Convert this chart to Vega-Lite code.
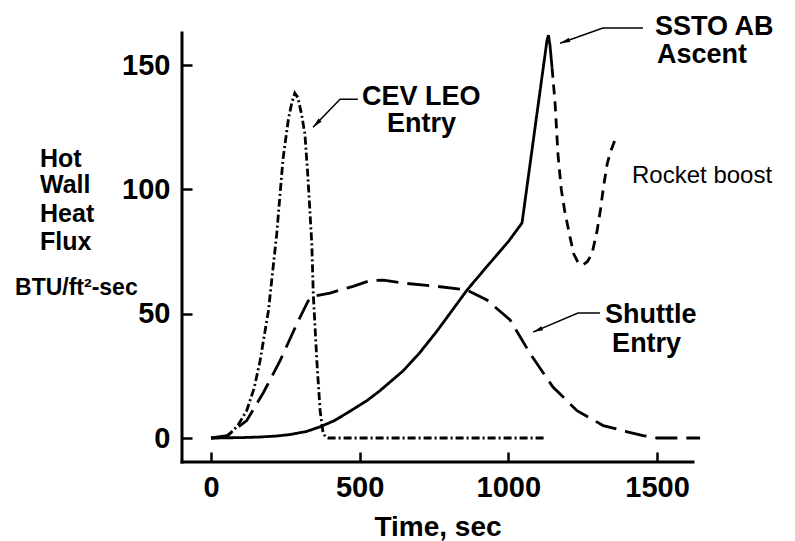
{
  "$schema": "https://vega.github.io/schema/vega-lite/v6.json",
  "width": 511,
  "height": 429,
  "autosize": {"type": "none"},
  "padding": {"left": 182, "top": 33, "right": 102, "bottom": 79},
  "background": "white",
  "config": {
    "view": {"stroke": null},
    "font": "Liberation Sans",
    "axis": {
      "labelFont": "Liberation Sans",
      "titleFont": "Liberation Sans",
      "labelColor": "black",
      "titleColor": "black",
      "domainColor": "black",
      "tickColor": "black",
      "grid": false
    }
  },
  "datasets": {
    "curves": [
      {"s": "SSTO", "t": 0, "v": 0},
      {"s": "SSTO", "t": 100, "v": 0.15},
      {"s": "SSTO", "t": 165, "v": 0.4},
      {"s": "SSTO", "t": 220, "v": 0.8},
      {"s": "SSTO", "t": 266, "v": 1.4},
      {"s": "SSTO", "t": 320, "v": 2.6},
      {"s": "SSTO", "t": 367, "v": 4.5},
      {"s": "SSTO", "t": 415, "v": 7},
      {"s": "SSTO", "t": 457, "v": 10},
      {"s": "SSTO", "t": 524, "v": 15},
      {"s": "SSTO", "t": 568, "v": 19},
      {"s": "SSTO", "t": 646, "v": 27},
      {"s": "SSTO", "t": 700, "v": 34},
      {"s": "SSTO", "t": 760, "v": 43},
      {"s": "SSTO", "t": 861, "v": 59.5},
      {"s": "SSTO", "t": 928, "v": 69},
      {"s": "SSTO", "t": 1000, "v": 79},
      {"s": "SSTO", "t": 1046, "v": 86.5},
      {"s": "SSTO", "t": 1130, "v": 160},
      {"s": "SSTO", "t": 1135, "v": 162},
      {"s": "SSTO", "t": 1140, "v": 158},
      {"s": "SSTO", "t": 1147, "v": 149},
      {"s": "Rocket", "t": 1147, "v": 149},
      {"s": "Rocket", "t": 1157, "v": 135},
      {"s": "Rocket", "t": 1167, "v": 114},
      {"s": "Rocket", "t": 1178, "v": 100},
      {"s": "Rocket", "t": 1190, "v": 91},
      {"s": "Rocket", "t": 1207, "v": 81},
      {"s": "Rocket", "t": 1220, "v": 74},
      {"s": "Rocket", "t": 1235, "v": 70.5},
      {"s": "Rocket", "t": 1251, "v": 69.6},
      {"s": "Rocket", "t": 1266, "v": 71},
      {"s": "Rocket", "t": 1281, "v": 74},
      {"s": "Rocket", "t": 1298, "v": 83},
      {"s": "Rocket", "t": 1310, "v": 92},
      {"s": "Rocket", "t": 1320, "v": 101},
      {"s": "Rocket", "t": 1332, "v": 110},
      {"s": "Rocket", "t": 1342, "v": 114.6},
      {"s": "Rocket", "t": 1359, "v": 120},
      {"s": "Shuttle", "t": 0, "v": 0},
      {"s": "Shuttle", "t": 54, "v": 1},
      {"s": "Shuttle", "t": 120, "v": 7},
      {"s": "Shuttle", "t": 175, "v": 18},
      {"s": "Shuttle", "t": 232, "v": 31},
      {"s": "Shuttle", "t": 289, "v": 46},
      {"s": "Shuttle", "t": 326, "v": 55},
      {"s": "Shuttle", "t": 343, "v": 57},
      {"s": "Shuttle", "t": 400, "v": 58.3},
      {"s": "Shuttle", "t": 478, "v": 61},
      {"s": "Shuttle", "t": 535, "v": 63.3},
      {"s": "Shuttle", "t": 580, "v": 63.5},
      {"s": "Shuttle", "t": 646, "v": 62.3},
      {"s": "Shuttle", "t": 760, "v": 61},
      {"s": "Shuttle", "t": 861, "v": 59.5},
      {"s": "Shuttle", "t": 928, "v": 55.5},
      {"s": "Shuttle", "t": 1006, "v": 47.5},
      {"s": "Shuttle", "t": 1073, "v": 34},
      {"s": "Shuttle", "t": 1150, "v": 20.5},
      {"s": "Shuttle", "t": 1231, "v": 11},
      {"s": "Shuttle", "t": 1319, "v": 5},
      {"s": "Shuttle", "t": 1400, "v": 2.5},
      {"s": "Shuttle", "t": 1453, "v": 1},
      {"s": "Shuttle", "t": 1500, "v": 0},
      {"s": "Shuttle", "t": 1645, "v": 0},
      {"s": "CEV", "t": 0, "v": 0},
      {"s": "CEV", "t": 30, "v": 0.1},
      {"s": "CEV", "t": 54, "v": 0.5},
      {"s": "CEV", "t": 90, "v": 5},
      {"s": "CEV", "t": 120, "v": 11},
      {"s": "CEV", "t": 145, "v": 20},
      {"s": "CEV", "t": 165, "v": 31},
      {"s": "CEV", "t": 193, "v": 51},
      {"s": "CEV", "t": 221, "v": 82},
      {"s": "CEV", "t": 242, "v": 112},
      {"s": "CEV", "t": 260, "v": 128},
      {"s": "CEV", "t": 272, "v": 135},
      {"s": "CEV", "t": 282, "v": 138.7},
      {"s": "CEV", "t": 292, "v": 137},
      {"s": "CEV", "t": 305, "v": 130},
      {"s": "CEV", "t": 316, "v": 122},
      {"s": "CEV", "t": 326, "v": 105},
      {"s": "CEV", "t": 339, "v": 78},
      {"s": "CEV", "t": 344, "v": 58},
      {"s": "CEV", "t": 356, "v": 31},
      {"s": "CEV", "t": 367, "v": 11},
      {"s": "CEV", "t": 377, "v": 2},
      {"s": "CEV", "t": 386, "v": 0.3},
      {"s": "CEV", "t": 394, "v": 0},
      {"s": "CEV", "t": 1123, "v": 0}
    ],
    "arrows": [
      {"a": "cev", "t": 494, "v": 136.3},
      {"a": "cev", "t": 434, "v": 136.3},
      {"a": "cev", "t": 343, "v": 125},
      {"a": "ssto", "t": 1453, "v": 164.9},
      {"a": "ssto", "t": 1318, "v": 164.9},
      {"a": "ssto", "t": 1174, "v": 158.8},
      {"a": "shuttle", "t": 1308, "v": 50.3},
      {"a": "shuttle", "t": 1234, "v": 50.3},
      {"a": "shuttle", "t": 1083, "v": 42.6}
    ],
    "heads": [
      {"a": "cev", "t": 343, "v": 125},
      {"a": "ssto", "t": 1174, "v": 158.8},
      {"a": "shuttle", "t": 1083, "v": 42.6}
    ],
    "edge": [{"x0": -97.5, "y0": -9.65}],
    "labels": [
      {"txt": "CEV LEO", "t": 508, "v": 133.9, "g": "b27"},
      {"txt": "Entry", "t": 592, "v": 123, "g": "b27"},
      {"txt": "Shuttle", "t": 1325, "v": 46.2, "g": "b27"},
      {"txt": "Entry", "t": 1349, "v": 34.6, "g": "b27"},
      {"txt": "SSTO AB", "t": 1493, "v": 162.1, "g": "b27"},
      {"txt": "Ascent", "t": 1500, "v": 150.8, "g": "b27"},
      {"txt": "Hot", "t": -575, "v": 109, "g": "b25"},
      {"txt": "Wall", "t": -575, "v": 98.5, "g": "b25"},
      {"txt": "Heat", "t": -575, "v": 86.9, "g": "b25"},
      {"txt": "Flux", "t": -575, "v": 75.6, "g": "b25"},
      {"txt": "BTU/ft²-sec", "t": -659, "v": 57.5, "g": "b23"},
      {"txt": "Rocket boost", "t": 1416, "v": 102.5, "g": "n24"}
    ]
  },
  "layer": [
    {
      "data": {"name": "curves"},
      "mark": {"type": "line", "color": "black", "strokeWidth": 2.8, "clip": false},
      "encoding": {
        "x": {
          "field": "t", "type": "quantitative",
          "scale": {"domain": [-97.5, 1621], "nice": false, "zero": false},
          "axis": {
            "values": [0, 500, 1000, 1500],
            "format": "d",
            "offset": -10,
            "title": "Time, sec",
            "titleFontSize": 28,
            "titleFontWeight": "bold",
            "titleBaseline": "alphabetic",
            "titleY": 83,
            "labelFontSize": 29,
            "labelFontWeight": "bold",
            "labelPadding": 11,
            "labelFlush": false,
            "labelOverlap": false,
            "ticks": true,
            "tickSize": 10,
            "tickWidth": 2.5,
            "domain": false
          }
        },
        "y": {
          "field": "v", "type": "quantitative",
          "scale": {"domain": [-9.65, 162.9], "nice": false, "zero": false},
          "axis": {
            "values": [0, 50, 100, 150],
            "format": "d",
            "offset": -10,
            "title": null,
            "labelFontSize": 29,
            "labelFontWeight": "bold",
            "labelPadding": 12,
            "labelFlush": false,
            "labelOverlap": false,
            "ticks": true,
            "tickSize": 10,
            "tickWidth": 2.5,
            "domain": false
          }
        },
        "strokeDash": {
          "field": "s", "type": "nominal",
          "scale": {"domain": ["SSTO", "Rocket", "Shuttle", "CEV"], "range": [[1, 0], [10, 7], [22, 9], [8, 3, 2, 3]]},
          "legend": null
        }
      }
    },
    {
      "data": {"name": "edge"},
      "mark": {"type": "rule", "color": "black", "strokeWidth": 3, "strokeCap": "square", "clip": false},
      "encoding": {"x": {"field": "x0", "type": "quantitative"}}
    },
    {
      "data": {"name": "edge"},
      "mark": {"type": "rule", "color": "black", "strokeWidth": 3, "strokeCap": "square", "clip": false},
      "encoding": {"y": {"field": "y0", "type": "quantitative"}}
    },
    {
      "data": {"name": "arrows"},
      "mark": {"type": "line", "color": "black", "strokeWidth": 1.5, "clip": false},
      "encoding": {
        "x": {"field": "t", "type": "quantitative"},
        "y": {"field": "v", "type": "quantitative"},
        "detail": {"field": "a", "type": "nominal"}
      }
    },
    {
      "data": {"name": "heads"},
      "transform": [{"filter": "datum.a === 'cev'"}],
      "mark": {"type": "point", "shape": "M0,0L0.35,1.6L-0.35,1.6Z", "filled": true, "color": "black", "opacity": 1, "size": 156, "angle": 225, "clip": false},
      "encoding": {
        "x": {"field": "t", "type": "quantitative"},
        "y": {"field": "v", "type": "quantitative"}
      }
    },
    {
      "data": {"name": "heads"},
      "transform": [{"filter": "datum.a === 'ssto'"}],
      "mark": {"type": "point", "shape": "M0,0L0.35,1.6L-0.35,1.6Z", "filled": true, "color": "black", "opacity": 1, "size": 156, "angle": 251, "clip": false},
      "encoding": {
        "x": {"field": "t", "type": "quantitative"},
        "y": {"field": "v", "type": "quantitative"}
      }
    },
    {
      "data": {"name": "heads"},
      "transform": [{"filter": "datum.a === 'shuttle'"}],
      "mark": {"type": "point", "shape": "M0,0L0.35,1.6L-0.35,1.6Z", "filled": true, "color": "black", "opacity": 1, "size": 156, "angle": 247, "clip": false},
      "encoding": {
        "x": {"field": "t", "type": "quantitative"},
        "y": {"field": "v", "type": "quantitative"}
      }
    },
    {
      "data": {"name": "labels"},
      "transform": [{"filter": "datum.g === 'b27'"}],
      "mark": {"type": "text", "align": "left", "baseline": "alphabetic", "fontSize": 27, "fontWeight": "bold", "color": "black", "clip": false},
      "encoding": {
        "x": {"field": "t", "type": "quantitative"},
        "y": {"field": "v", "type": "quantitative"},
        "text": {"field": "txt"}
      }
    },
    {
      "data": {"name": "labels"},
      "transform": [{"filter": "datum.g === 'b25'"}],
      "mark": {"type": "text", "align": "left", "baseline": "alphabetic", "fontSize": 25, "fontWeight": "bold", "color": "black", "clip": false},
      "encoding": {
        "x": {"field": "t", "type": "quantitative"},
        "y": {"field": "v", "type": "quantitative"},
        "text": {"field": "txt"}
      }
    },
    {
      "data": {"name": "labels"},
      "transform": [{"filter": "datum.g === 'b23'"}],
      "mark": {"type": "text", "align": "left", "baseline": "alphabetic", "fontSize": 23, "fontWeight": "bold", "color": "black", "clip": false},
      "encoding": {
        "x": {"field": "t", "type": "quantitative"},
        "y": {"field": "v", "type": "quantitative"},
        "text": {"field": "txt"}
      }
    },
    {
      "data": {"name": "labels"},
      "transform": [{"filter": "datum.g === 'n24'"}],
      "mark": {"type": "text", "align": "left", "baseline": "alphabetic", "fontSize": 24, "fontWeight": "normal", "color": "black", "clip": false},
      "encoding": {
        "x": {"field": "t", "type": "quantitative"},
        "y": {"field": "v", "type": "quantitative"},
        "text": {"field": "txt"}
      }
    }
  ]
}
